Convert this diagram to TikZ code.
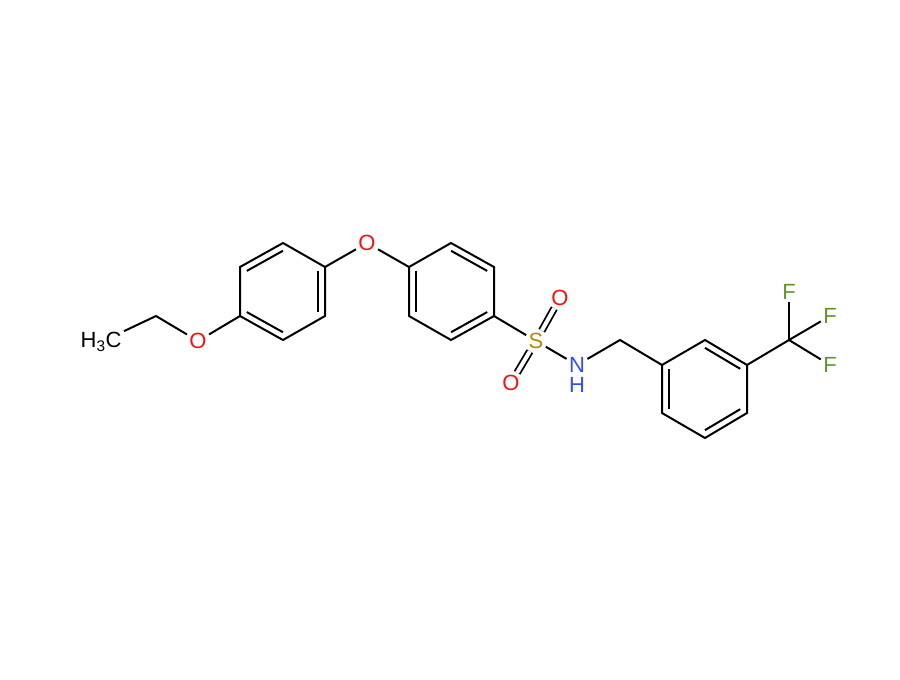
\documentclass[tikz,border=0pt]{standalone}
\usepackage{fontspec}
\setmainfont{Liberation Sans}
\usetikzlibrary{calc}
\definecolor{ored}{RGB}{255,13,13}
\definecolor{nblue}{RGB}{48,80,248}
\definecolor{sgold}{RGB}{178,140,0}
\definecolor{fgreen}{RGB}{95,150,40}
\begin{document}
\begin{tikzpicture}[x=1pt,y=-1pt,line width=2pt,
  lab/.style={inner sep=1.5pt,font=\fontsize{22}{22}\selectfont},
  bond/.style={line width=2pt}]
\useasboundingbox (0,0) rectangle (900,680);
% ring A
\coordinate (a1) at (283,243); \coordinate (a2) at (325,267); \coordinate (a3) at (325,316);
\coordinate (a4) at (283,340); \coordinate (a5) at (240,316); \coordinate (a6) at (240,267);
\coordinate (ac) at (282.7,291.5);
% ring B
\coordinate (b1) at (409,267); \coordinate (b2) at (451,243); \coordinate (b3) at (494,267);
\coordinate (b4) at (494,316); \coordinate (b5) at (451,340); \coordinate (b6) at (409,316);
\coordinate (bc) at (451.3,291.5);
% ring C
\coordinate (c1) at (662,365); \coordinate (c2) at (705,340); \coordinate (c3) at (747,365);
\coordinate (c4) at (747,413); \coordinate (c5) at (705,438); \coordinate (c6) at (662,413);
\coordinate (cc) at (704.7,389);
\coordinate (ch2) at (620,340);
\coordinate (eth) at (156,316);
\coordinate (cf) at (789,340);
% labels
\node[lab,text=ored] (Oe) at (367,243) {O};
\node[lab,text=ored] (Oet) at (198,341) {O};
\node[lab,anchor=east] (me) at (124,342) {H\textsubscript{3}C};
\node[lab,text=sgold] (S) at (536,341) {S};
\node[lab,text=ored] (O1) at (560,298) {O};
\node[lab,text=ored] (O2) at (511,383) {O};
\node[lab,text=nblue] (N) at (577,365) {N};
\node[lab,text=nblue] at (577,385) {H};
\node[lab,text=fgreen] (F1) at (789,292) {F};
\node[lab,text=fgreen] (F2) at (830,316) {F};
\node[lab,text=fgreen] (F3) at (830,365) {F};
% ring bonds
\draw (a1)--(a2)--(a3)--(a4)--(a5)--(a6)--cycle;
\draw (b1)--(b2)--(b3)--(b4)--(b5)--(b6)--cycle;
\draw (c1)--(c2)--(c3)--(c4)--(c5)--(c6)--cycle;
\foreach \c/\p/\q in {ac/a6/a1, ac/a2/a3, ac/a4/a5, bc/b2/b3, bc/b1/b6, bc/b4/b5, cc/c1/c6, cc/c2/c3, cc/c4/c5}
  \draw ($(\c)!0.84!(\p)$)--($(\c)!0.84!(\q)$);
% other bonds
\draw (a2)--(Oe)--(b1);
\draw (a5)--(Oet)--(eth)--(me);
\draw (b4)--(S)--(N)--(ch2)--(c1);
\draw (c3)--(cf);
\draw (cf)--(F1); \draw (cf)--(F2); \draw (cf)--(F3);
\draw[double,double distance=4pt,line width=1.8pt] (S)--(O1);
\draw[double,double distance=4pt,line width=1.8pt] (S)--(O2);
\end{tikzpicture}
\end{document}
